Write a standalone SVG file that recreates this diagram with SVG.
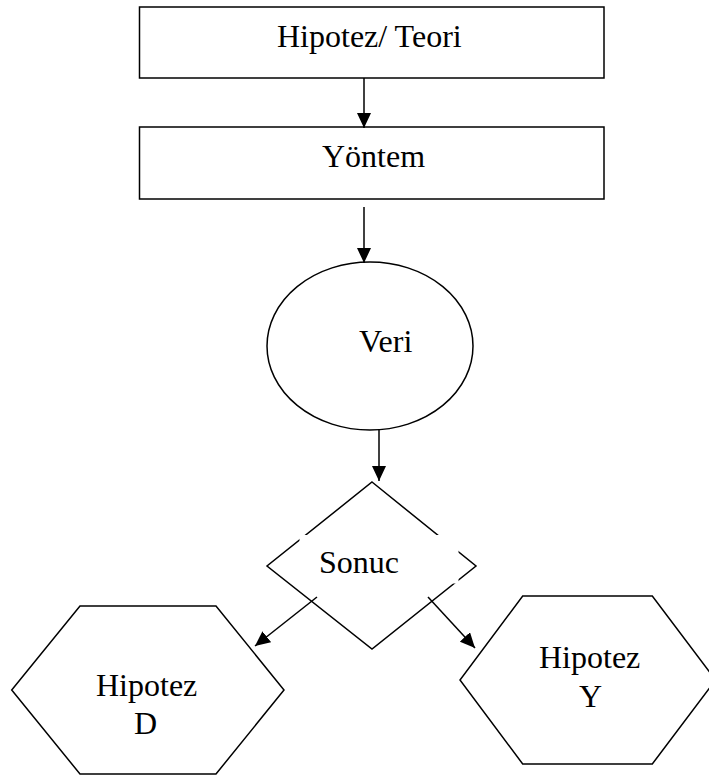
<svg xmlns="http://www.w3.org/2000/svg" width="709" height="778" viewBox="0 0 709 778">
  <style>
    .shape { fill: #ffffff; stroke: #000000; stroke-width: 1.5; }
    .label { font-family: "Liberation Serif", "Times New Roman", serif; font-size: 32px; fill: #000000; }
    .conn { stroke: #000000; stroke-width: 1.5; fill: none; marker-end: url(#arrow); }
  </style>
  <defs>
    <marker id="arrow" markerUnits="userSpaceOnUse" markerWidth="15" markerHeight="14" refX="15" refY="7" orient="auto">
      <path d="M0,0 L15,7 L0,14 z" fill="#000000"/>
    </marker>
  </defs>
  <rect width="709" height="778" fill="#ffffff"/>

  <g id="node-hipotez-teori">
    <rect class="shape" x="139.5" y="7" width="464.5" height="71"/>
    <text class="label" x="277" y="47">Hipotez/ Teori</text>
  </g>
  <g id="node-yontem">
    <rect class="shape" x="139.5" y="127" width="464.5" height="72"/>
    <text class="label" x="322" y="167">Yöntem</text>
  </g>
  <g id="node-veri">
    <ellipse class="shape" cx="370" cy="346" rx="103" ry="84"/>
    <text class="label" x="359" y="352">Veri</text>
  </g>
  <g id="node-sonuc">
    <polygon class="shape" points="372,482 476,566 372,649 267,566"/>
    <rect x="299.5" y="535" width="159" height="48.5" fill="#ffffff" stroke="none"/>
    <text class="label" x="319" y="573">Sonuc</text>
  </g>
  <g id="node-hipotez-d">
    <polygon class="shape" points="80,606 216,606 284,690 216,774 80,774 11.7,690"/>
    <text class="label" x="96" y="696">Hipotez</text>
    <text class="label" x="134" y="734">D</text>
  </g>
  <g id="node-hipotez-y">
    <polygon class="shape" points="522.7,596 652.3,596 715.5,680 652.3,764 522.7,764 460,680"/>
    <text class="label" x="539" y="668">Hipotez</text>
    <text class="label" x="579" y="707">Y</text>
  </g>

  <g id="connectors">
    <line class="conn" x1="364" y1="78" x2="364" y2="128"/>
    <line class="conn" x1="364" y1="207" x2="364" y2="263"/>
    <line class="conn" x1="379" y1="430" x2="379" y2="481"/>
    <line class="conn" x1="317" y1="597" x2="255" y2="646"/>
    <line class="conn" x1="428" y1="597" x2="475" y2="648"/>
  </g>
</svg>
